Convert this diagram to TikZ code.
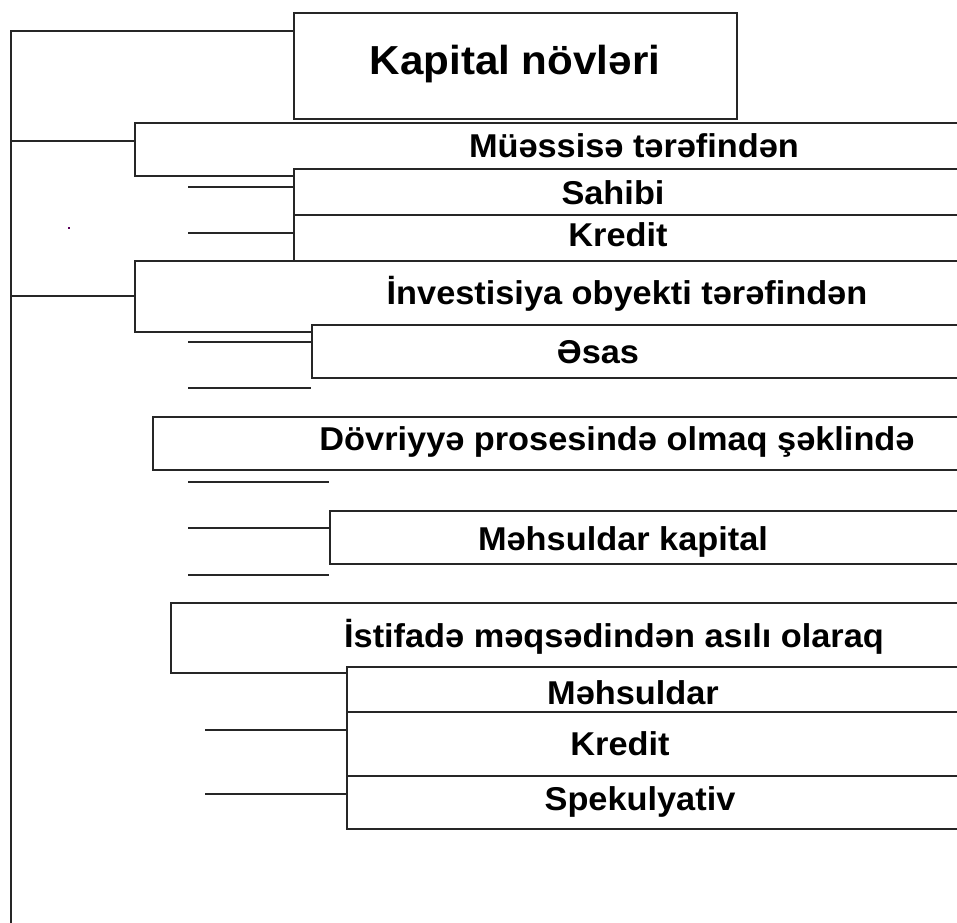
\documentclass[tikz,border=0pt]{standalone}
\usepackage{fontspec}
\setmainfont{Liberation Sans}
\newfontfamily\widebold{Liberation Sans Bold}[FakeStretch=1.04]
\begin{document}
\begin{tikzpicture}[x=1pt,y=-1pt,
  box/.style={draw=black!85, line width=1.1pt, fill=white, anchor=north west, inner sep=0pt, outer sep=0pt},
  lbl/.style={anchor=base, inner sep=0pt, font=\widebold\fontsize{33}{36}\selectfont},
  ttl/.style={anchor=base, inner sep=0pt, font=\widebold\fontsize{40.5}{46}\selectfont},
  conn/.style={draw=black!85, line width=1.1pt}]
\useasboundingbox (0,0) rectangle (957,922);
\clip (0,0) rectangle (957,922);
% boxes
\node[box, minimum width=443pt, minimum height=106pt] (title) at (294,13) {};
\node[box, minimum width=840pt, minimum height=53pt] (b1) at (135,123) {};
\node[box, minimum width=680pt, minimum height=46pt] (b2) at (294,169) {};
\node[box, minimum width=680pt, minimum height=46pt] (b3) at (294,215) {};
\node[box, minimum width=840pt, minimum height=71pt] (b4) at (135,261) {};
\node[box, minimum width=660pt, minimum height=53pt] (b5) at (312,325) {};
\node[box, minimum width=820pt, minimum height=53pt] (b6) at (153,417) {};
\node[box, minimum width=640pt, minimum height=53pt] (b7) at (330,511) {};
\node[box, minimum width=800pt, minimum height=70pt] (b8) at (171,603) {};
\node[box, minimum width=620pt, minimum height=45pt] (b9) at (347,667) {};
\node[box, minimum width=620pt, minimum height=64pt] (b10) at (347,712) {};
\node[box, minimum width=620pt, minimum height=53pt] (b11) at (347,776) {};
% labels
\node[ttl] (t0) at (515,74) {Kapital növləri};
\node[lbl] (t1) at (634,157) {Müəssisə tərəfindən};
\node[lbl] (t2) at (613,204) {Sahibi};
\node[lbl] (t3) at (618,246) {Kredit};
\node[lbl] (t4) at (627,304) {İnvestisiya obyekti tərəfindən};
\node[lbl] (t5) at (598,363) {Əsas};
\node[lbl] (t6) at (617,450) {Dövriyyə prosesində olmaq şəklində};
\node[lbl] (t7) at (623,550) {Məhsuldar kapital};
\node[lbl] (t8) at (614,647) {İstifadə məqsədindən asılı olaraq};
\node[lbl] (t9) at (633,704) {Məhsuldar};
\node[lbl] (t10) at (620,755) {Kredit};
\node[lbl] (t11) at (640,810) {Spekulyativ};
% spine and branches
\coordinate (sTop) at (11,31);
\coordinate (sBot) at (11,925);
\coordinate (j1) at (11,141);
\coordinate (j2) at (11,296);
\draw[conn] (title.west |- sTop) -- (sTop) -- (sBot);
\draw[conn] (j1) -- (j1 -| b1.west);
\draw[conn] (j2) -- (j2 -| b4.west);
% short lines
\coordinate (f1) at (188,187);
\coordinate (f2) at (188,233);
\coordinate (f3) at (188,342);
\coordinate (f4a) at (188,388);
\coordinate (f4b) at (311,388);
\coordinate (f5a) at (188,482);
\coordinate (f5b) at (329,482);
\coordinate (f6) at (188,528);
\coordinate (f7a) at (188,575);
\coordinate (f7b) at (329,575);
\coordinate (f8) at (205,730);
\coordinate (f9) at (205,794);
\draw[conn] (f1) -- (f1 -| b2.west);
\draw[conn] (f2) -- (f2 -| b3.west);
\draw[conn] (f3) -- (f3 -| b5.west);
\draw[conn] (f4a) -- (f4b);
\draw[conn] (f5a) -- (f5b);
\draw[conn] (f6) -- (f6 -| b7.west);
\draw[conn] (f7a) -- (f7b);
\draw[conn] (f8) -- (f8 -| b10.west);
\draw[conn] (f9) -- (f9 -| b11.west);
% stray dot
\coordinate (dot) at (69,228);
\fill[violet!70!black] (68,227) rectangle (70,229);
\end{tikzpicture}
\end{document}
